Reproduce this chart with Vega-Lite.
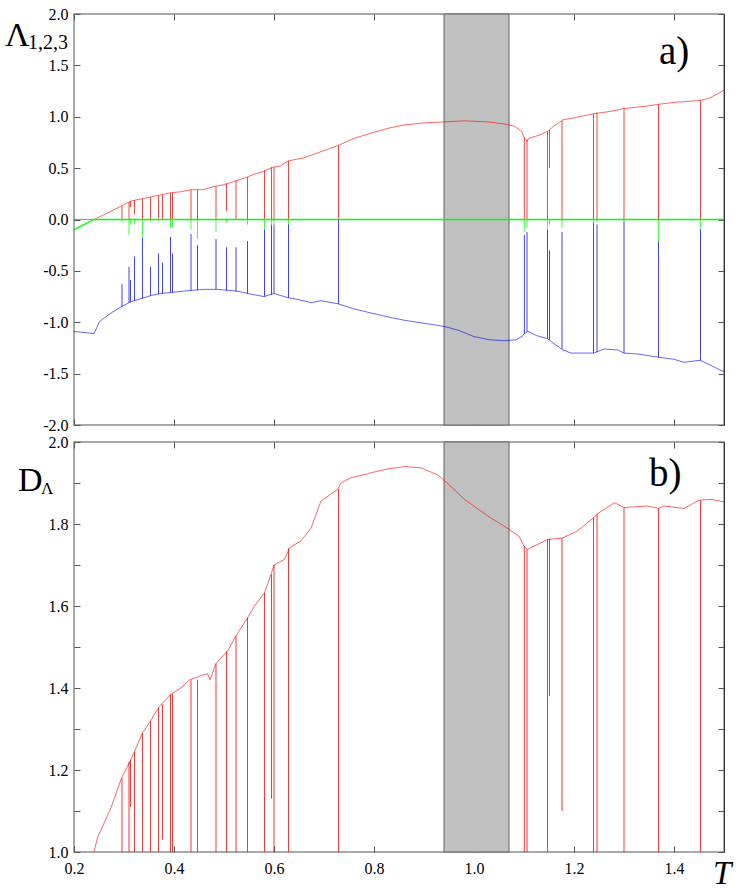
{
  "$schema": "https://vega.github.io/schema/vega-lite/v6.json",
  "padding": {"left": 4, "top": 5, "right": 5, "bottom": 5},
  "background": "white",
  "config": {
    "view": {"stroke": "#8c8c8c", "strokeWidth": 1.5},
    "axis": {"labelFont": "Liberation Serif", "labelFontSize": 16, "labelColor": "#000", "tickColor": "#555", "tickWidth": 1, "grid": false, "domain": false, "labelFlush": false}
  },
  "datasets": {
    "band": [{"t0": 0.94, "t1": 1.07}],
    "lam": [
      {"s":"r","t":0.2,"v":0},{"s":"r","t":0.24,"v":0},{"s":"r","t":0.257,"v":0.04},{"s":"r","t":0.274,"v":0.08},{"s":"r","t":0.294,"v":0.13},{"s":"r","t":0.314,"v":0.18},{"s":"r","t":0.334,"v":0.2},{"s":"r","t":0.354,"v":0.22},{"s":"r","t":0.374,"v":0.24},{"s":"r","t":0.394,"v":0.26},{"s":"r","t":0.414,"v":0.27},{"s":"r","t":0.434,"v":0.29},{"s":"r","t":0.457,"v":0.29},{"s":"r","t":0.48,"v":0.32},{"s":"r","t":0.5,"v":0.34},{"s":"r","t":0.52,"v":0.37},{"s":"r","t":0.54,"v":0.4},{"s":"r","t":0.56,"v":0.44},{"s":"r","t":0.58,"v":0.47},{"s":"r","t":0.598,"v":0.51},{"s":"r","t":0.613,"v":0.52},{"s":"r","t":0.628,"v":0.57},{"s":"r","t":0.66,"v":0.6},{"s":"r","t":0.694,"v":0.66},{"s":"r","t":0.728,"v":0.72},{"s":"r","t":0.76,"v":0.79},{"s":"r","t":0.794,"v":0.84},{"s":"r","t":0.83,"v":0.89},{"s":"r","t":0.86,"v":0.92},{"s":"r","t":0.9,"v":0.94},{"s":"r","t":0.94,"v":0.95},{"s":"r","t":0.98,"v":0.96},{"s":"r","t":1.028,"v":0.95},{"s":"r","t":1.06,"v":0.93},{"s":"r","t":1.08,"v":0.91},{"s":"r","t":1.095,"v":0.86},{"s":"r","t":1.1,"v":0.8},{"s":"r","t":1.106,"v":0.76},{"s":"r","t":1.11,"v":0.79},{"s":"r","t":1.13,"v":0.82},{"s":"r","t":1.148,"v":0.86},{"s":"r","t":1.16,"v":0.91},{"s":"r","t":1.178,"v":0.97},{"s":"r","t":1.2,"v":0.99},{"s":"r","t":1.24,"v":1.03},{"s":"r","t":1.27,"v":1.05},{"s":"r","t":1.3,"v":1.08},{"s":"r","t":1.34,"v":1.1},{"s":"r","t":1.368,"v":1.12},{"s":"r","t":1.4,"v":1.14},{"s":"r","t":1.43,"v":1.15},{"s":"r","t":1.454,"v":1.16},{"s":"r","t":1.47,"v":1.18},{"s":"r","t":1.49,"v":1.23},{"s":"r","t":1.5,"v":1.26},
      {"s":"g","t":0.2,"v":-0.1},{"s":"g","t":0.24,"v":0},{"s":"g","t":1.5,"v":0},
      {"s":"b","t":0.2,"v":-1.09},{"s":"b","t":0.22,"v":-1.1},{"s":"b","t":0.24,"v":-1.11},{"s":"b","t":0.245,"v":-1.06},{"s":"b","t":0.25,"v":-1.0},{"s":"b","t":0.26,"v":-0.96},{"s":"b","t":0.274,"v":-0.91},{"s":"b","t":0.294,"v":-0.85},{"s":"b","t":0.314,"v":-0.8},{"s":"b","t":0.334,"v":-0.77},{"s":"b","t":0.354,"v":-0.74},{"s":"b","t":0.374,"v":-0.72},{"s":"b","t":0.394,"v":-0.71},{"s":"b","t":0.414,"v":-0.7},{"s":"b","t":0.434,"v":-0.69},{"s":"b","t":0.46,"v":-0.68},{"s":"b","t":0.487,"v":-0.68},{"s":"b","t":0.51,"v":-0.69},{"s":"b","t":0.53,"v":-0.7},{"s":"b","t":0.547,"v":-0.72},{"s":"b","t":0.58,"v":-0.75},{"s":"b","t":0.6,"v":-0.72},{"s":"b","t":0.627,"v":-0.76},{"s":"b","t":0.65,"v":-0.78},{"s":"b","t":0.674,"v":-0.81},{"s":"b","t":0.694,"v":-0.79},{"s":"b","t":0.728,"v":-0.82},{"s":"b","t":0.76,"v":-0.87},{"s":"b","t":0.794,"v":-0.91},{"s":"b","t":0.83,"v":-0.95},{"s":"b","t":0.86,"v":-0.98},{"s":"b","t":0.9,"v":-1.01},{"s":"b","t":0.94,"v":-1.04},{"s":"b","t":0.97,"v":-1.08},{"s":"b","t":1.0,"v":-1.14},{"s":"b","t":1.03,"v":-1.17},{"s":"b","t":1.06,"v":-1.18},{"s":"b","t":1.085,"v":-1.17},{"s":"b","t":1.098,"v":-1.13},{"s":"b","t":1.1,"v":-1.11},{"s":"b","t":1.108,"v":-1.09},{"s":"b","t":1.125,"v":-1.13},{"s":"b","t":1.147,"v":-1.16},{"s":"b","t":1.16,"v":-1.21},{"s":"b","t":1.178,"v":-1.27},{"s":"b","t":1.194,"v":-1.3},{"s":"b","t":1.24,"v":-1.3},{"s":"b","t":1.26,"v":-1.26},{"s":"b","t":1.288,"v":-1.27},{"s":"b","t":1.3,"v":-1.3},{"s":"b","t":1.33,"v":-1.31},{"s":"b","t":1.368,"v":-1.34},{"s":"b","t":1.4,"v":-1.36},{"s":"b","t":1.42,"v":-1.39},{"s":"b","t":1.452,"v":-1.37},{"s":"b","t":1.47,"v":-1.41},{"s":"b","t":1.49,"v":-1.46},{"s":"b","t":1.5,"v":-1.48}
    ],
    "lamSpk": [
      {"s":"r","t":0.296,"v":0.13,"v2":0},{"s":"r","t":0.31,"v":0.17,"v2":0},{"s":"r","t":0.313,"v":0.18,"v2":0.12},{"s":"r","t":0.321,"v":0.19,"v2":0.05},{"s":"r","t":0.337,"v":0.2,"v2":0},{"s":"r","t":0.353,"v":0.22,"v2":0},{"s":"r","t":0.369,"v":0.235,"v2":0.01},{"s":"r","t":0.377,"v":0.24,"v2":0},{"s":"r","t":0.393,"v":0.26,"v2":0},{"s":"r","t":0.397,"v":0.26,"v2":0},{"s":"r","t":0.434,"v":0.29,"v2":0},{"s":"r","t":0.447,"v":0.29,"v2":0},{"s":"r","t":0.484,"v":0.32,"v2":0},{"s":"r","t":0.505,"v":0.35,"v2":0.08},{"s":"r","t":0.524,"v":0.38,"v2":0},{"s":"r","t":0.547,"v":0.41,"v2":0},{"s":"r","t":0.581,"v":0.48,"v2":0},{"s":"r","t":0.595,"v":0.51,"v2":0},{"s":"r","t":0.6,"v":0.51,"v2":0},{"s":"r","t":0.629,"v":0.57,"v2":0},{"s":"r","t":0.729,"v":0.72,"v2":0},{"s":"r","t":1.1007,"v":0.8,"v2":0},{"s":"r","t":1.106,"v":0.78,"v2":0},{"s":"r","t":1.147,"v":0.86,"v2":0},{"s":"r","t":1.151,"v":0.87,"v2":0.5},{"s":"r","t":1.176,"v":0.96,"v2":0},{"s":"r","t":1.239,"v":1.03,"v2":0},{"s":"r","t":1.246,"v":1.04,"v2":0},{"s":"r","t":1.3,"v":1.08,"v2":0},{"s":"r","t":1.369,"v":1.12,"v2":0},{"s":"r","t":1.453,"v":1.16,"v2":0},
      {"s":"g","t":0.296,"v":0,"v2":-0.03},{"s":"g","t":0.31,"v":0,"v2":-0.15},{"s":"g","t":0.313,"v":0,"v2":-0.05},{"s":"g","t":0.321,"v":0,"v2":-0.04},{"s":"g","t":0.337,"v":0,"v2":-0.18},{"s":"g","t":0.353,"v":0,"v2":-0.02},{"s":"g","t":0.369,"v":0,"v2":-0.02},{"s":"g","t":0.393,"v":0,"v2":-0.08},{"s":"g","t":0.397,"v":0,"v2":-0.08},{"s":"g","t":0.434,"v":0,"v2":-0.1},{"s":"g","t":0.447,"v":0,"v2":-0.19},{"s":"g","t":0.484,"v":0,"v2":-0.12},{"s":"g","t":0.505,"v":0,"v2":-0.03},{"s":"g","t":0.547,"v":0,"v2":-0.05},{"s":"g","t":0.581,"v":0,"v2":-0.1},{"s":"g","t":0.595,"v":0,"v2":-0.05},{"s":"g","t":0.6,"v":0,"v2":-0.05},{"s":"g","t":0.629,"v":0,"v2":-0.07},{"s":"g","t":1.1007,"v":0,"v2":-0.12},{"s":"g","t":1.106,"v":0,"v2":-0.08},{"s":"g","t":1.147,"v":0,"v2":-0.1},{"s":"g","t":1.151,"v":0,"v2":-0.05},{"s":"g","t":1.176,"v":0,"v2":-0.08},{"s":"g","t":1.239,"v":0,"v2":-0.03},{"s":"g","t":1.246,"v":0,"v2":-0.03},{"s":"g","t":1.3,"v":0,"v2":-0.03},{"s":"g","t":1.369,"v":0,"v2":-0.21},{"s":"g","t":1.453,"v":0,"v2":-0.08},
      {"s":"b","t":0.296,"v":-0.85,"v2":-0.63},{"s":"b","t":0.31,"v":-0.81,"v2":-0.46},{"s":"b","t":0.313,"v":-0.8,"v2":-0.59},{"s":"b","t":0.321,"v":-0.79,"v2":-0.36},{"s":"b","t":0.337,"v":-0.77,"v2":-0.18},{"s":"b","t":0.353,"v":-0.74,"v2":-0.46},{"s":"b","t":0.369,"v":-0.725,"v2":-0.33},{"s":"b","t":0.377,"v":-0.72,"v2":-0.42},{"s":"b","t":0.393,"v":-0.71,"v2":-0.17},{"s":"b","t":0.397,"v":-0.71,"v2":-0.33},{"s":"b","t":0.434,"v":-0.69,"v2":-0.14},{"s":"b","t":0.447,"v":-0.69,"v2":-0.25},{"s":"b","t":0.484,"v":-0.68,"v2":-0.19},{"s":"b","t":0.505,"v":-0.69,"v2":-0.27},{"s":"b","t":0.524,"v":-0.7,"v2":-0.27},{"s":"b","t":0.547,"v":-0.72,"v2":-0.21},{"s":"b","t":0.581,"v":-0.75,"v2":-0.1},{"s":"b","t":0.595,"v":-0.73,"v2":-0.05},{"s":"b","t":0.6,"v":-0.72,"v2":-0.05},{"s":"b","t":0.629,"v":-0.76,"v2":-0.05},{"s":"b","t":0.729,"v":-0.82,"v2":0},{"s":"b","t":1.1007,"v":-1.11,"v2":-0.15},{"s":"b","t":1.106,"v":-1.09,"v2":-0.12},{"s":"b","t":1.147,"v":-1.16,"v2":-0.1},{"s":"b","t":1.151,"v":-1.17,"v2":-0.3},{"s":"b","t":1.176,"v":-1.26,"v2":-0.12},{"s":"b","t":1.239,"v":-1.3,"v2":-0.03},{"s":"b","t":1.246,"v":-1.29,"v2":-0.05},{"s":"b","t":1.3,"v":-1.3,"v2":-0.02},{"s":"b","t":1.369,"v":-1.34,"v2":-0.21},{"s":"b","t":1.453,"v":-1.37,"v2":-0.09}
    ],
    "dim": [
      {"t":0.24,"v":1.0},{"t":0.247,"v":1.035},{"t":0.274,"v":1.108},{"t":0.295,"v":1.18},{"t":0.314,"v":1.226},{"t":0.337,"v":1.29},{"t":0.353,"v":1.32},{"t":0.369,"v":1.352},{"t":0.394,"v":1.385},{"t":0.414,"v":1.4},{"t":0.431,"v":1.42},{"t":0.454,"v":1.43},{"t":0.467,"v":1.435},{"t":0.472,"v":1.42},{"t":0.484,"v":1.46},{"t":0.507,"v":1.49},{"t":0.524,"v":1.527},{"t":0.547,"v":1.571},{"t":0.561,"v":1.6},{"t":0.581,"v":1.632},{"t":0.594,"v":1.677},{"t":0.6,"v":1.7},{"t":0.621,"v":1.714},{"t":0.631,"v":1.742},{"t":0.654,"v":1.759},{"t":0.674,"v":1.79},{"t":0.694,"v":1.856},{"t":0.727,"v":1.884},{"t":0.734,"v":1.9},{"t":0.754,"v":1.913},{"t":0.787,"v":1.922},{"t":0.794,"v":1.925},{"t":0.83,"v":1.935},{"t":0.861,"v":1.94},{"t":0.894,"v":1.937},{"t":0.927,"v":1.92},{"t":0.941,"v":1.906},{"t":0.981,"v":1.86},{"t":1.027,"v":1.82},{"t":1.07,"v":1.787},{"t":1.09,"v":1.77},{"t":1.1,"v":1.746},{"t":1.107,"v":1.738},{"t":1.147,"v":1.762},{"t":1.177,"v":1.766},{"t":1.207,"v":1.783},{"t":1.239,"v":1.815},{"t":1.247,"v":1.825},{"t":1.281,"v":1.852},{"t":1.3,"v":1.84},{"t":1.347,"v":1.844},{"t":1.369,"v":1.838},{"t":1.38,"v":1.844},{"t":1.42,"v":1.838},{"t":1.45,"v":1.858},{"t":1.474,"v":1.86},{"t":1.5,"v":1.854}
    ],
    "dimSpk": [
      {"t":0.296,"v":1.18,"v2":1.0},{"t":0.31,"v":1.22,"v2":1.0},{"t":0.313,"v":1.225,"v2":1.11},{"t":0.321,"v":1.245,"v2":1.0},{"t":0.337,"v":1.29,"v2":1.0},{"t":0.353,"v":1.32,"v2":1.0},{"t":0.369,"v":1.352,"v2":1.0},{"t":0.377,"v":1.36,"v2":1.03},{"t":0.393,"v":1.385,"v2":1.0},{"t":0.397,"v":1.385,"v2":1.0},{"t":0.434,"v":1.42,"v2":1.0},{"t":0.447,"v":1.42,"v2":1.0},{"t":0.484,"v":1.46,"v2":1.0},{"t":0.505,"v":1.49,"v2":1.0},{"t":0.524,"v":1.527,"v2":1.0},{"t":0.547,"v":1.571,"v2":1.0},{"t":0.581,"v":1.632,"v2":1.0},{"t":0.595,"v":1.677,"v2":1.13},{"t":0.6,"v":1.7,"v2":1.0},{"t":0.629,"v":1.74,"v2":1.0},{"t":0.729,"v":1.885,"v2":1.0},{"t":1.1007,"v":1.746,"v2":1.0},{"t":1.106,"v":1.738,"v2":1.0},{"t":1.147,"v":1.762,"v2":1.0},{"t":1.151,"v":1.764,"v2":1.38},{"t":1.176,"v":1.766,"v2":1.1},{"t":1.239,"v":1.815,"v2":1.0},{"t":1.246,"v":1.825,"v2":1.0},{"t":1.3,"v":1.84,"v2":1.0},{"t":1.369,"v":1.838,"v2":1.0},{"t":1.453,"v":1.858,"v2":1.0}
    ],
    "labA": [{"t":1.37,"v":1.51,"txt":"a)"}],
    "labL": [{"t":0.062,"v":1.686,"txt":"Λ"}],
    "labL2": [{"t":0.108,"v":1.657,"txt":"1,2,3"}],
    "labB": [{"t":1.35,"v":1.893,"txt":"b)"}],
    "labD": [{"t":0.088,"v":1.88,"txt":"D"}],
    "labD2": [{"t":0.134,"v":1.872,"txt":"Λ"}],
    "labT": [{"t":1.478,"v":0.922,"txt":"T"}]
  },
  "vconcat": [
    {
      "width": 650, "height": 411,
      "resolve": {"axis": {"x": "independent", "y": "independent"}},
      "layer": [
        {"data": {"name": "band"}, "mark": {"type": "rect", "fill": "#c0c0c0", "stroke": "#606060", "strokeWidth": 1},
         "encoding": {"x": {"field": "t0", "type": "quantitative", "scale": {"domain": [0.2, 1.5], "nice": false, "zero": false}, "axis": null}, "x2": {"field": "t1"}}},
        {"data": {"name": "lam"}, "transform": [{"filter": "datum.s != 'g'"}], "mark": {"type": "line", "strokeWidth": 1, "opacity": 0.6},
         "encoding": {
           "x": {"field": "t", "type": "quantitative", "scale": {"domain": [0.2, 1.5], "nice": false, "zero": false},
                 "axis": {"orient": "bottom", "values": [0.2,0.4,0.6,0.8,1.0,1.2,1.4], "labels": false, "title": null, "tickSize": -6}},
           "y": {"field": "v", "type": "quantitative", "scale": {"domain": [-2, 2], "nice": false, "zero": false},
                 "axis": {"orient": "left", "values": [-2,-1.5,-1,-0.5,0,0.5,1,1.5,2], "labelExpr": "replace(format(datum.value, '.1f'), '\u2212', '-')", "title": null, "tickSize": -6, "labelPadding": 12}},
           "color": {"field": "s", "type": "nominal", "scale": {"domain": ["r","g","b"], "range": ["#ff0000", "#00ff00", "#0000ff"]}, "legend": null}
         }},
        {"data": {"name": "lamSpk"}, "mark": {"type": "rule", "strokeWidth": 1, "opacity": 0.75},
         "encoding": {
           "x": {"field": "t", "type": "quantitative", "scale": {"domain": [0.2, 1.5], "nice": false, "zero": false}, "axis": null},
           "y": {"field": "v", "type": "quantitative", "scale": {"domain": [-2, 2], "nice": false, "zero": false}, "axis": null},
           "y2": {"field": "v2"},
           "color": {"field": "s", "type": "nominal", "scale": {"domain": ["r","g","b"], "range": ["#ff0000", "#00ff00", "#0000ff"]}, "legend": null}
         }},
        {"data": {"name": "lam"}, "transform": [{"filter": "datum.s == 'g'"}], "mark": {"type": "line", "strokeWidth": 1.4, "color": "#00ff00"},
         "encoding": {
           "x": {"field": "t", "type": "quantitative", "scale": {"domain": [0.2, 1.5], "nice": false, "zero": false}, "axis": null},
           "y": {"field": "v", "type": "quantitative", "scale": {"domain": [-2, 2], "nice": false, "zero": false}, "axis": null}
         }},
        {"data": {"name": "labA"}, "mark": {"type": "text", "font": "Liberation Serif", "fontSize": 39, "align": "left", "baseline": "alphabetic", "color": "#000"},
         "encoding": {
           "x": {"field": "t", "type": "quantitative", "scale": {"domain": [0.2, 1.5], "nice": false, "zero": false},
                 "axis": {"orient": "top", "values": [0.2,0.4,0.6,0.8,1.0,1.2,1.4], "labels": false, "title": null, "tickSize": -6}},
           "y": {"field": "v", "type": "quantitative", "scale": {"domain": [-2, 2], "nice": false, "zero": false},
                 "axis": {"orient": "right", "values": [-2,-1.5,-1,-0.5,0,0.5,1,1.5,2], "labels": false, "title": null, "tickSize": -6, "domain": true, "domainColor": "#333", "domainWidth": 1}},
           "text": {"field": "txt"}
         }},
        {"data": {"name": "labL"}, "mark": {"type": "text", "font": "Liberation Serif", "fontSize": 34, "align": "left", "baseline": "alphabetic", "color": "#000"},
         "encoding": {
           "x": {"field": "t", "type": "quantitative", "scale": {"domain": [0.2, 1.5], "nice": false, "zero": false}, "axis": null},
           "y": {"field": "v", "type": "quantitative", "scale": {"domain": [-2, 2], "nice": false, "zero": false}, "axis": null},
           "text": {"field": "txt"}
         }},
        {"data": {"name": "labL2"}, "mark": {"type": "text", "font": "Liberation Serif", "fontSize": 20, "align": "left", "baseline": "alphabetic", "color": "#000"},
         "encoding": {
           "x": {"field": "t", "type": "quantitative", "scale": {"domain": [0.2, 1.5], "nice": false, "zero": false}, "axis": null},
           "y": {"field": "v", "type": "quantitative", "scale": {"domain": [-2, 2], "nice": false, "zero": false}, "axis": null},
           "text": {"field": "txt"}
         }}
      ]
    },
    {
      "width": 650, "height": 410,
      "resolve": {"axis": {"x": "independent", "y": "independent"}},
      "layer": [
        {"data": {"name": "band"}, "mark": {"type": "rect", "fill": "#c0c0c0", "stroke": "#606060", "strokeWidth": 1},
         "encoding": {"x": {"field": "t0", "type": "quantitative", "scale": {"domain": [0.2, 1.5], "nice": false, "zero": false}, "axis": null}, "x2": {"field": "t1"}}},
        {"data": {"name": "dim"}, "mark": {"type": "line", "strokeWidth": 1, "color": "#ff0000", "opacity": 0.6},
         "encoding": {
           "x": {"field": "t", "type": "quantitative", "scale": {"domain": [0.2, 1.5], "nice": false, "zero": false},
                 "axis": {"orient": "bottom", "values": [0.2,0.4,0.6,0.8,1.0,1.2,1.4], "format": ".1f", "title": null, "tickSize": -6, "labelPadding": 14}},
           "y": {"field": "v", "type": "quantitative", "scale": {"domain": [1, 2], "nice": false, "zero": false},
                 "axis": {"orient": "left", "values": [1,1.1,1.2,1.3,1.4,1.5,1.6,1.7,1.8,1.9,2], "labelExpr": "round(datum.value*10) % 2 == 0 ? format(datum.value, '.1f') : ''", "title": null, "tickSize": -6, "labelPadding": 12}}
         }},
        {"data": {"name": "dimSpk"}, "mark": {"type": "rule", "strokeWidth": 1, "color": "#ff0000", "opacity": 0.8},
         "encoding": {
           "x": {"field": "t", "type": "quantitative", "scale": {"domain": [0.2, 1.5], "nice": false, "zero": false}, "axis": null},
           "y": {"field": "v", "type": "quantitative", "scale": {"domain": [1, 2], "nice": false, "zero": false}, "axis": null},
           "y2": {"field": "v2"}
         }},
        {"data": {"name": "labB"}, "mark": {"type": "text", "font": "Liberation Serif", "fontSize": 39, "align": "left", "baseline": "alphabetic", "color": "#000"},
         "encoding": {
           "x": {"field": "t", "type": "quantitative", "scale": {"domain": [0.2, 1.5], "nice": false, "zero": false},
                 "axis": {"orient": "top", "values": [0.2,0.4,0.6,0.8,1.0,1.2,1.4], "labels": false, "title": null, "tickSize": -6}},
           "y": {"field": "v", "type": "quantitative", "scale": {"domain": [1, 2], "nice": false, "zero": false},
                 "axis": {"orient": "right", "values": [1,1.1,1.2,1.3,1.4,1.5,1.6,1.7,1.8,1.9,2], "labels": false, "title": null, "tickSize": -6, "domain": true, "domainColor": "#333", "domainWidth": 1}},
           "text": {"field": "txt"}
         }},
        {"data": {"name": "labD"}, "mark": {"type": "text", "font": "Liberation Serif", "fontSize": 34, "align": "left", "baseline": "alphabetic", "color": "#000"},
         "encoding": {
           "x": {"field": "t", "type": "quantitative", "scale": {"domain": [0.2, 1.5], "nice": false, "zero": false}, "axis": null},
           "y": {"field": "v", "type": "quantitative", "scale": {"domain": [1, 2], "nice": false, "zero": false}, "axis": null},
           "text": {"field": "txt"}
         }},
        {"data": {"name": "labD2"}, "mark": {"type": "text", "font": "Liberation Serif", "fontSize": 17, "align": "left", "baseline": "alphabetic", "color": "#000"},
         "encoding": {
           "x": {"field": "t", "type": "quantitative", "scale": {"domain": [0.2, 1.5], "nice": false, "zero": false}, "axis": null},
           "y": {"field": "v", "type": "quantitative", "scale": {"domain": [1, 2], "nice": false, "zero": false}, "axis": null},
           "text": {"field": "txt"}
         }},
        {"data": {"name": "labT"}, "mark": {"type": "text", "font": "Liberation Serif", "fontSize": 33, "fontStyle": "italic", "align": "left", "baseline": "alphabetic", "color": "#000"},
         "encoding": {
           "x": {"field": "t", "type": "quantitative", "scale": {"domain": [0.2, 1.5], "nice": false, "zero": false}, "axis": null},
           "y": {"field": "v", "type": "quantitative", "scale": {"domain": [1, 2], "nice": false, "zero": false}, "axis": null},
           "text": {"field": "txt"}
         }}
      ]
    }
  ],
  "spacing": 17,
  "bounds": "flush"
}
